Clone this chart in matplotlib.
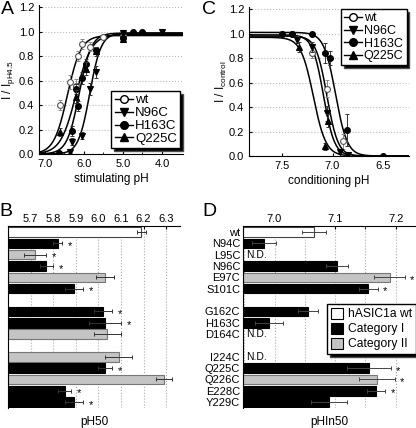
import numpy as np
import matplotlib.pyplot as plt
from matplotlib.lines import Line2D
from matplotlib.patches import Patch

plt.rcParams['font.family'] = ['Liberation Sans', 'DejaVu Sans']
plt.rcParams['mathtext.default'] = 'regular'
plt.rcParams['font.size'] = 7.5

# ---------------- data: panel A (stimulating pH) ----------------
series = ['wt', 'N96C', 'H163C', 'Q225C']

a_wt_ph = [6.6, 6.35, 6.2, 6.15, 6.05, 5.85, 5.5, 5.0]
a_wt_i = [0.40, 0.59, 0.56, 0.80, 0.90, 0.88, 0.96, 0.97]
a_wt_err = [0.04, 0.06, 0.05, 0.04, 0.04, 0.04, 0.01, 0.01]

a_n96_ph = [6.35, 6.3, 6.05, 5.85, 5.7, 5.0, 4.0]
a_n96_i = [0.02, 0.10, 0.15, 0.53, 0.67, 0.99, 1.00]
a_n96_err = [0.01, 0.03, 0.03, 0.05, 0.05, 0.01, 0.01]

a_h163_ph = [6.65, 6.3, 6.2, 6.15, 6.05, 5.95, 5.7, 5.0, 4.75, 4.5]
a_h163_i = [0.01, 0.19, 0.53, 0.39, 0.62, 0.74, 0.85, 0.95, 1.00, 1.00]
a_h163_err = [0.01, 0.04, 0.04, 0.04, 0.05, 0.04, 0.03, 0.02, 0.01, 0.01]

a_q225_ph = [6.6, 6.2, 5.95, 5.7, 5.0]
a_q225_i = [0.18, 0.47, 0.70, 0.84, 0.94]
a_q225_err = [0.03, 0.05, 0.05, 0.04, 0.01]

# Hill fit parameters (pH50, n, max)
a_fit_ph50 = [6.42, 5.85, 6.12, 6.20]
a_fit_n = [2.5, 3.0, 2.8, 2.2]
a_fit_top = [0.97, 0.99, 0.99, 0.98]

# ---------------- data: panel C (conditioning pH) ----------------
c_wt_ph = [7.5, 7.4, 7.2, 7.05, 6.9, 6.85]
c_wt_i = [1.00, 1.00, 0.84, 0.55, 0.12, 0.00]
c_wt_err = [0.01, 0.01, 0.04, 0.07, 0.06, 0.01]

c_n96_ph = [7.35, 7.2, 7.05, 6.93, 6.85]
c_n96_i = [0.95, 0.89, 0.35, 0.03, 0.01]
c_n96_err = [0.03, 0.04, 0.06, 0.01, 0.01]

c_h163_ph = [7.5, 7.4, 7.2, 7.07, 7.03, 6.86, 6.5]
c_h163_i = [1.00, 1.00, 1.00, 0.84, 0.80, 0.21, 0.00]
c_h163_err = [0.01, 0.01, 0.01, 0.08, 0.06, 0.13, 0.01]

c_q225_ph = [7.33, 7.07, 7.04, 6.86]
c_q225_i = [0.89, 0.08, 0.29, 0.01]
c_q225_err = [0.04, 0.03, 0.05, 0.01]

c_fit_ph50 = [7.055, 7.09, 6.97, 7.19]
c_fit_n = [8, 8, 7.5, 7]
c_fit_top = [0.98, 0.99, 1.01, 0.97]

# ---------------- data: panels B and D ----------------
mutants = ['wt', 'N94C', 'L95C', 'N96C', 'E97C', 'S101C',
           'G162C', 'H163C', 'D164C',
           'I224C', 'Q225C', 'Q226C', 'E228C', 'Y229C']
group_sizes = [6, 3, 5]
category = ['wt', 'I', 'II', 'I', 'II', 'I', 'I', 'I', 'II', 'II', 'I', 'II', 'I', 'I']

ph50 = [6.19, 5.82, 5.72, 5.77, 6.03, 5.89, 6.02, 6.03, 6.04, 6.09, 6.03, 6.29, 5.85, 5.89]
ph50_err = [0.02, 0.02, 0.05, 0.03, 0.04, 0.04, 0.04, 0.07, 0.06, 0.06, 0.03, 0.035, 0.03, 0.04]
ph50_sig = [0, 1, 1, 1, 0, 1, 1, 1, 0, 0, 1, 0, 1, 1]

phin50 = [7.065, 6.983, None, 7.103, 7.19, 7.155, 7.055, 6.991, None, None, 7.156, 7.169, 7.168, 7.09]
phin50_err = [0.02, 0.02, None, 0.018, 0.025, 0.015, 0.017, 0.023, None, None, 0.036, 0.03, 0.015, 0.03]
phin50_sig = [0, 0, 0, 0, 1, 1, 0, 0, 0, 0, 1, 1, 1, 0]

face = {'wt': 'white', 'I': 'black', 'II': '#c4c4c4'}
edge = {'wt': '#444444', 'I': 'black', 'II': '#777777'}
cat_names = {'wt': 'hASIC1a wt', 'I': 'Category I', 'II': 'Category II'}

# row positions with a blank row between groups
rows = []
r = 0
for g in group_sizes:
    for k in range(g):
        rows.append(r)
        r += 1
    r += 1

styles = {
    'wt': dict(marker='o', mfc='white', mec='#555555', ecol='#888888'),
    'N96C': dict(marker='v', mfc='black', mec='black', ecol='#333333'),
    'H163C': dict(marker='o', mfc='black', mec='black', ecol='#333333'),
    'Q225C': dict(marker='^', mfc='black', mec='black', ecol='#333333'),
}

fig = plt.figure(figsize=(4.16, 4.28), dpi=100)


def style_curve_axes(ax):
    for s in ['top', 'right']:
        ax.spines[s].set_visible(False)
    ax.set_ylim(0, 1.22)
    ax.set_yticks([0, 0.2, 0.4, 0.6, 0.8, 1.0, 1.2])
    ax.set_yticklabels(['%.1f' % v for v in [0, 0.2, 0.4, 0.6, 0.8, 1.0, 1.2]])
    ax.yaxis.grid(True, linestyle=':', color='#bbbbbb', lw=0.8)
    ax.set_axisbelow(True)
    ax.tick_params(direction='in', length=2.5, labelsize=8)


def legend_curves(ax, size, **kw):
    handles = []
    for name in series:
        st = styles[name]
        handles.append(Line2D([], [], color='black', lw=1, marker=st['marker'],
                              mfc=st['mfc'], mec='black', ms=5.5))
    leg = ax.legend(handles, series, fontsize=size, handlelength=1.4, handletextpad=0.15,
                    labelspacing=0.05, borderpad=0.25, borderaxespad=0.2,
                    fancybox=False, framealpha=1,
                    shadow={'ox': 2, 'oy': -2, 'facecolor': 'black', 'alpha': 1},
                    **kw)
    leg.get_frame().set_edgecolor('black')
    leg.get_frame().set_linewidth(1.0)


# ---------------- panel A ----------------
axA = fig.add_axes([39 / 416, 1 - 154 / 428, 144 / 416, 149 / 428])
xa = np.linspace(7.15, 3.46, 400)
for k in range(4):
    axA.plot(xa, a_fit_top[k] / (1 + 10 ** (a_fit_n[k] * (xa - a_fit_ph50[k]))),
             color='black', lw=1.1)
a_data = [(a_wt_ph, a_wt_i, a_wt_err), (a_n96_ph, a_n96_i, a_n96_err),
          (a_h163_ph, a_h163_i, a_h163_err), (a_q225_ph, a_q225_i, a_q225_err)]
for name, (px, py, pe) in zip(series, a_data):
    st = styles[name]
    axA.errorbar(px, py, yerr=pe, fmt='none', ecolor=st['ecol'], elinewidth=0.7,
                 capsize=1.3, capthick=0.7)
    axA.plot(px, py, ls='none', marker=st['marker'], mfc=st['mfc'], mec=st['mec'],
             ms=4.2, mew=0.8)
axA.set_xlim(7.15, 3.46)
axA.set_xticks([7.0, 6.0, 5.0, 4.0])
axA.set_xticklabels(['7.0', '6.0', '5.0', '4.0'])
axA.set_xticks([6.5, 5.5, 4.5], minor=True)
axA.tick_params(which='minor', direction='in', length=1.5)
style_curve_axes(axA)
axA.set_xlabel('stimulating pH', fontsize=8.5, labelpad=3)
axA.set_ylabel('I / I$_{pH4.5}$', fontsize=8.5, labelpad=1)
legend_curves(axA, 9.5, loc='lower right', bbox_to_anchor=(1.0, 0.02))

# ---------------- panel C ----------------
axC = fig.add_axes([249 / 416, 1 - 156 / 428, 160 / 416, 149.3 / 428])
xc = np.linspace(7.83, 6.24, 400)
c_order = ['wt', 'N96C', 'H163C', 'Q225C']
for k in range(4):
    axC.plot(xc, c_fit_top[k] / (1 + 10 ** (c_fit_n[k] * (c_fit_ph50[k] - xc))),
             color='black', lw=1.1)
c_data = [(c_wt_ph, c_wt_i, c_wt_err), (c_n96_ph, c_n96_i, c_n96_err),
          (c_h163_ph, c_h163_i, c_h163_err), (c_q225_ph, c_q225_i, c_q225_err)]
for name, (px, py, pe) in zip(c_order, c_data):
    st = styles[name]
    axC.errorbar(px, py, yerr=pe, fmt='none', ecolor=st['ecol'], elinewidth=0.7,
                 capsize=1.3, capthick=0.7)
    axC.plot(px, py, ls='none', marker=st['marker'], mfc=st['mfc'], mec=st['mec'],
             ms=4.2, mew=0.8)
axC.set_xlim(7.83, 6.24)
axC.set_xticks([7.5, 7.0, 6.5])
axC.set_xticklabels(['7.5', '7.0', '6.5'])
style_curve_axes(axC)
axC.set_xlabel('conditioning pH', fontsize=8.5, labelpad=3)
axC.set_ylabel('I / I$_{control}$', fontsize=8.5, labelpad=0)
legend_curves(axC, 9, loc='upper right', bbox_to_anchor=(1.0, 1.0))


def style_bar_axes(ax):
    ax.xaxis.tick_top()
    ax.spines['bottom'].set_visible(False)
    ax.spines['right'].set_visible(False)
    ax.set_ylim(rows[-1] + 0.5, -0.5)
    ax.xaxis.grid(True, which='both', linestyle=':', color='#aaaaaa', lw=0.8)
    ax.set_axisbelow(True)
    ax.tick_params(axis='x', which='both', direction='in', length=2, labelsize=8, pad=2)
    ax.tick_params(axis='y', length=0)


# ---------------- panel B ----------------
axB = fig.add_axes([8 / 416, 0.0474, 172 / 416, 0.4238])
b_left = 5.6
for i, rr in enumerate(rows):
    c = category[i]
    axB.barh(rr, ph50[i] - b_left, left=b_left, height=0.85, color=face[c],
             edgecolor=edge[c], lw=0.8, zorder=2)
    axB.errorbar(ph50[i], rr, xerr=ph50_err[i], fmt='none', ecolor='#333333',
                 elinewidth=0.7, capsize=1.5, capthick=0.7, zorder=3)
    if ph50_sig[i]:
        axB.text(ph50[i] + ph50_err[i] + 0.035, rr + 0.25, '*', ha='center',
                 va='center', fontsize=8)
axB.set_xlim(b_left, 6.361)
axB.set_xticks([5.7, 5.8, 5.9, 6.0, 6.1, 6.2, 6.3])
axB.set_xticklabels(['5.7', '5.8', '5.9', '6.0', '6.1', '6.2', '6.3'])
axB.set_yticks([])
style_bar_axes(axB)
axB.set_xlabel('pH50', fontsize=8.5, labelpad=6)

# ---------------- panel D ----------------
axD = fig.add_axes([243 / 416, 0.0474, 172.7 / 416, 0.4238])
d_left = 6.948
for i, rr in enumerate(rows):
    if phin50[i] is None:
        axD.text(d_left + 0.005, rr, 'N.D.', ha='left', va='center', fontsize=7.5)
        continue
    c = category[i]
    axD.barh(rr, phin50[i] - d_left, left=d_left, height=0.85, color=face[c],
             edgecolor=edge[c], lw=0.8, zorder=2)
    axD.errorbar(phin50[i], rr, xerr=phin50_err[i], fmt='none', ecolor='#444444',
                 elinewidth=0.7, capsize=1.5, capthick=0.7, zorder=3)
    if phin50_sig[i]:
        axD.text(phin50[i] + phin50_err[i] + 0.012, rr + 0.25, '*', ha='center',
                 va='center', fontsize=8)
axD.set_xlim(d_left, 7.233)
axD.set_xticks([7.0, 7.1, 7.2])
axD.set_xticklabels(['7.0', '7.1', '7.2'])
axD.set_xticks([6.95, 7.05, 7.15], minor=True)
axD.set_yticks(rows)
axD.set_yticklabels(mutants, fontsize=8)
style_bar_axes(axD)
axD.tick_params(axis='y', pad=2)
axD.set_xlabel('pHIn50', fontsize=8.5, labelpad=6)

patches = [Patch(facecolor=face[c], edgecolor='black', lw=0.8) for c in ['wt', 'I', 'II']]
legD = axD.legend(patches, [cat_names[c] for c in ['wt', 'I', 'II']], loc='upper right',
                  bbox_to_anchor=(1.0, 0.57), fontsize=8.7, handlelength=1.0,
                  handleheight=1.0, handletextpad=0.4, labelspacing=0.2,
                  borderpad=0.3, borderaxespad=0.0, fancybox=False, framealpha=1,
                  shadow={'ox': 2, 'oy': -2, 'facecolor': 'black', 'alpha': 1})
legD.get_frame().set_edgecolor('black')
legD.get_frame().set_linewidth(1.0)

# panel letters
for letter, x, y in [('A', 7, 9), ('C', 209, 9), ('B', 6, 211), ('D', 209, 211)]:
    fig.text(x / 416, 1 - y / 428, letter, ha='center', va='center', fontsize=14)

fig.savefig('out.png', dpi=100)
